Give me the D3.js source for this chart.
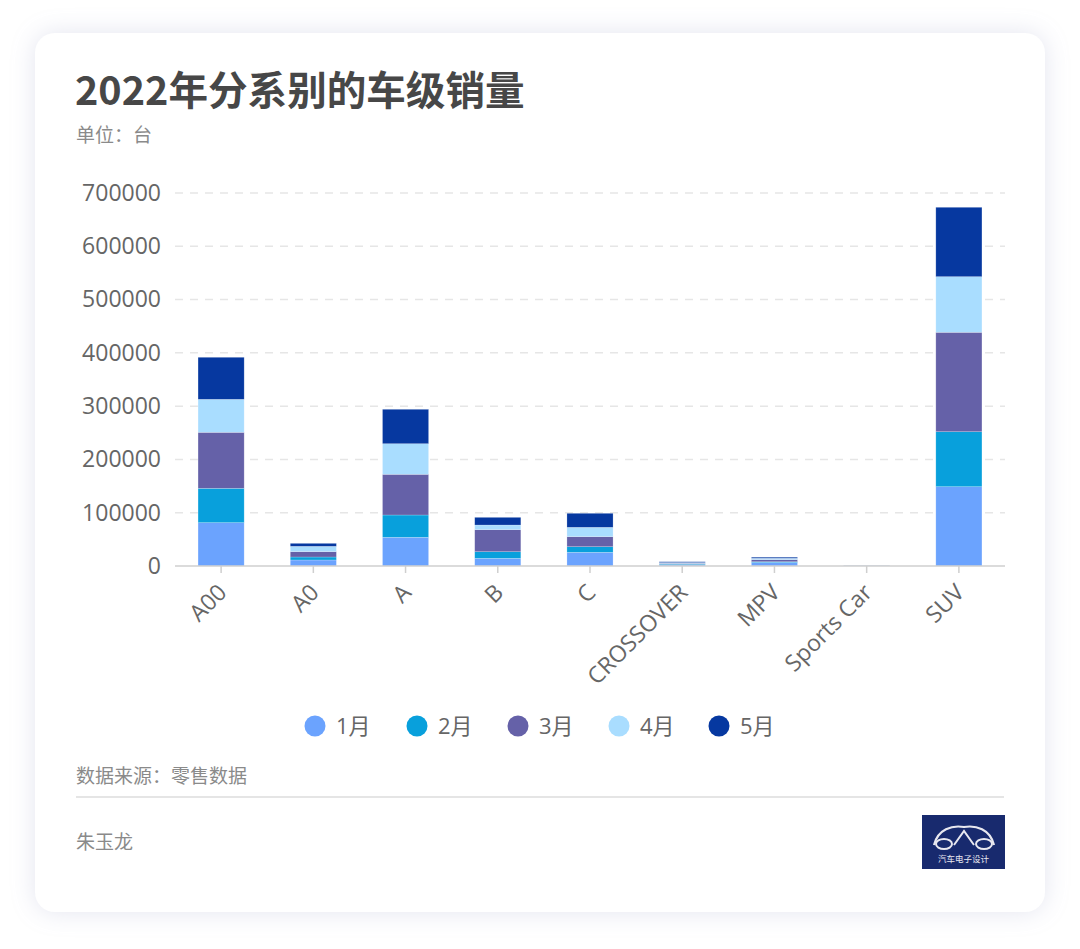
<!DOCTYPE html>
<html><head><meta charset="utf-8">
<script src="https://cdn.jsdelivr.net/npm/d3@7/dist/d3.min.js"></script>
<style>
html,body{margin:0;padding:0;background:#fff;}
svg{display:block;font-family:"Open Sans","Noto Sans CJK SC",sans-serif;}
</style></head>
<body>
<svg id="c" width="1080" height="949"></svg>
<script>
const categories = ["A00","A0","A","B","C","CROSSOVER","MPV","Sports Car","SUV"];
const months = ["1月","2月","3月","4月","5月"];
const jan = [81300, 11300, 53900, 14400, 25700, 2000, 6500, 300, 148800];
const feb = [64500, 5600, 41800, 12400, 10500, 1500, 1500, 200, 103200];
const mar = [105100, 10000, 76400, 41300, 18800, 1500, 4000, 300, 186600];
const apr = [61900, 10000, 57400, 8800, 17600, 1500, 2500, 200, 104400];
const may = [78900, 5600, 64600, 14400, 26300, 1500, 2000, 200, 130200];
const yTicks = [0,100000,200000,300000,400000,500000,600000,700000];
const colors = ["#6ba3fe","#08a0dc","#6561a8","#a9ddff","#0638a0"];

const svg = d3.select("#c");
const defs = svg.append("defs");
const f = defs.append("filter").attr("id","sh").attr("x","-10%").attr("y","-10%").attr("width","120%").attr("height","120%");
f.append("feGaussianBlur").attr("in","SourceAlpha").attr("stdDeviation",12).attr("result","b");
f.append("feFlood").attr("flood-color","#c8cbe0").attr("flood-opacity",0.5);
f.append("feComposite").attr("in2","b").attr("operator","in").attr("result","s");
const m = f.append("feMerge"); m.append("feMergeNode").attr("in","s"); m.append("feMergeNode").attr("in","SourceGraphic");

svg.append("rect").attr("x",35).attr("y",33).attr("width",1010).attr("height",879).attr("rx",20)
  .attr("fill","#fff").attr("filter","url(#sh)");

svg.append("text").attr("x",75).attr("y",105).attr("font-size",39.6).attr("font-weight","bold")
  .attr("fill","#474747").attr("font-family","'Noto Sans CJK SC',sans-serif").text("2022年分系别的车级销量");
svg.append("text").attr("x",76).attr("y",142).attr("font-size",19).attr("fill","#8a8a8a")
  .attr("font-family","'Noto Sans CJK SC',sans-serif").text("单位：台");

const x = d3.scaleBand().domain(categories).range([175,1005]).paddingInner(0.5).paddingOuter(0.25);
const y = d3.scaleLinear().domain([0,700000]).range([566,193]);

// grid
svg.append("g").selectAll("line").data(yTicks.filter(d=>d>0)).join("line")
  .attr("x1",175).attr("x2",1005).attr("y1",d=>y(d)).attr("y2",d=>y(d))
  .attr("stroke","#e6e6e6").attr("stroke-width",1.5).attr("stroke-dasharray","8,7");

// y axis
const ya = svg.append("g").attr("transform","translate(161,0)")
  .call(d3.axisLeft(y).tickValues(yTicks).tickSize(0).tickPadding(0).tickFormat(d3.format("d")));
ya.select(".domain").remove();
ya.selectAll("text").attr("font-size",23).attr("fill","#666").attr("font-family","'Open Sans',sans-serif");

// stacked bars
const series = [jan,feb,mar,apr,may];
const rows = categories.map((c,i)=>{const o={cat:c}; months.forEach((mm,j)=>o[mm]=series[j][i]); return o;});
const stack = d3.stack().keys(months)(rows);
svg.append("g").selectAll("g").data(stack).join("g").attr("fill",(d,i)=>colors[i])
  .selectAll("rect").data(d=>d).join("rect")
  .attr("x",d=>x(d.data.cat)).attr("width",x.bandwidth())
  .attr("y",d=>y(d[1])).attr("height",d=>y(d[0])-y(d[1]))
  .attr("stroke","rgba(255,255,255,0.35)").attr("stroke-width",0.6);

// x axis
const xa = svg.append("g").attr("transform","translate(0,566)")
  .call(d3.axisBottom(x).tickSize(7).tickPadding(6));
xa.select(".domain").attr("stroke","#cfcfcf").attr("stroke-width",1.5).attr("d","M175,0H1005");
xa.selectAll(".tick line").attr("stroke","#cfcfcf").attr("stroke-width",1.5);
xa.selectAll("text").attr("font-size",23).attr("fill","#666").attr("font-family","'Open Sans',sans-serif")
  .attr("text-anchor","end").attr("dy","0.35em")
  .attr("transform","translate(-8,13) rotate(-45)");

// legend
const lx = [315,417,518,619,719];
const lg = svg.append("g").selectAll("g").data(months).join("g")
  .attr("transform",(d,i)=>`translate(${lx[i]},726)`);
lg.append("circle").attr("r",10.5).attr("fill",(d,i)=>colors[i]);
lg.append("text").attr("x",21).attr("y",8).attr("font-size",22).attr("fill","#666")
  .attr("font-family","'Open Sans','Noto Sans CJK SC',sans-serif").text(d=>d);

// footer
svg.append("text").attr("x",76).attr("y",783).attr("font-size",19).attr("fill","#8a8a8a")
  .attr("font-family","'Noto Sans CJK SC',sans-serif").text("数据来源：零售数据");
svg.append("line").attr("x1",76).attr("x2",1004).attr("y1",797).attr("y2",797).attr("stroke","#dcdcdc").attr("stroke-width",1.5);
svg.append("text").attr("x",76).attr("y",849).attr("font-size",19).attr("fill","#8a8a8a")
  .attr("font-family","'Noto Sans CJK SC',sans-serif").text("朱玉龙");

// logo
const lgG = svg.append("g").attr("transform","translate(922,815)");
lgG.append("rect").attr("width",83).attr("height",54).attr("fill","#182a6e");
lgG.append("path").attr("d","M12,30 C16,14 30,10 42,12 C54,10 68,14 72,30")
  .attr("fill","none").attr("stroke","#e8e8f0").attr("stroke-width",2.2);
lgG.append("ellipse").attr("cx",22).attr("cy",29).attr("rx",8).attr("ry",5).attr("fill","none").attr("stroke","#e8e8f0").attr("stroke-width",2);
lgG.append("ellipse").attr("cx",62).attr("cy",29).attr("rx",8).attr("ry",5).attr("fill","none").attr("stroke","#e8e8f0").attr("stroke-width",2);
lgG.append("path").attr("d","M32,30 L42,16 L52,30").attr("fill","none").attr("stroke","#e8e8f0").attr("stroke-width",2);
lgG.append("text").attr("x",41.5).attr("y",47).attr("text-anchor","middle").attr("font-size",8.5).attr("fill","#e8e8f0")
  .attr("font-family","'Noto Sans CJK SC',sans-serif").text("汽车电子设计");
</script>
</body></html>
